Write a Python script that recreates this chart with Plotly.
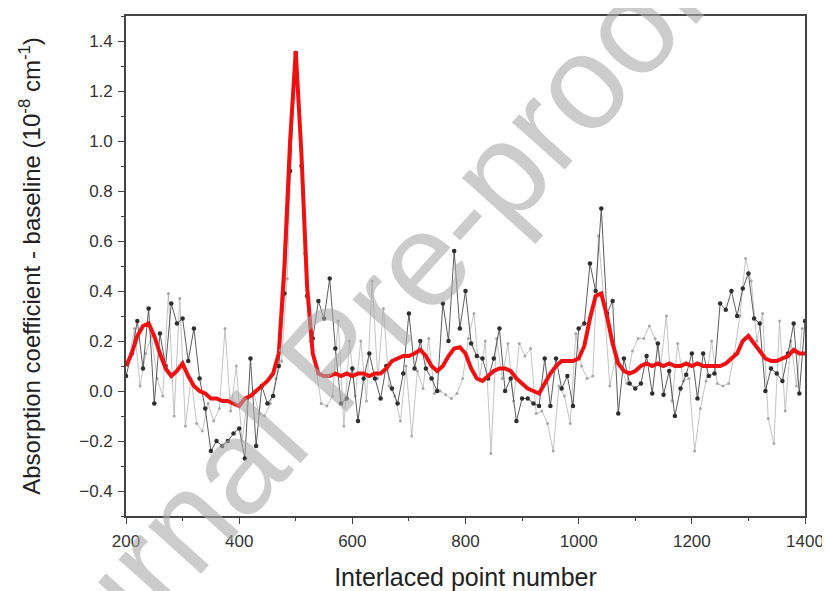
import plotly.graph_objects as go

# ---- data ----
black_x = list(range(200, 1401, 10))
black_y = [0.06, 0.15, 0.28, 0.09, 0.33, -0.05, 0.23, 0.10, 0.35, 0.27,
           0.29, 0.12, 0.25, 0.05, -0.07, -0.24, -0.20, -0.22, -0.20, -0.17,
           -0.15, -0.27, 0.13, -0.22, 0.02, -0.05, -0.02, 0.10, 0.39, 0.88,
           1.35, 0.90, 0.38, 0.21, 0.36, 0.29, 0.45, 0.17, -0.05, -0.03,
           0.09, -0.12, 0.05, 0.15, 0.05, -0.03, 0.10, 0.01, -0.05, 0.07,
           0.31, 0.09, 0.20, 0.09, 0.05, 0.00, 0.35, 0.20, 0.56, 0.25,
           0.40, 0.19, 0.14, 0.13, 0.05, 0.13, 0.25, 0.00, 0.05, -0.12,
           -0.03, -0.03, -0.05, -0.06, 0.13, -0.06, 0.13, 0.01, 0.06, -0.06,
           0.25, 0.27, 0.51, 0.40, 0.73, 0.31, 0.36, -0.09, 0.13, 0.03,
           0.01, 0.03, 0.14, -0.01, 0.19, -0.015, 0.08, -0.10, 0.01, 0.065,
           0.15, -0.03, 0.15, 0.06, 0.07, 0.35, 0.325, 0.40, 0.30, 0.41,
           0.47, 0.29, 0.27, 0.00, 0.09, 0.07, 0.04, 0.15, 0.27, -0.01,
           0.28]

gray_x = list(range(205, 1400, 10))
gray_y = [0.12, 0.25, 0.02, 0.15, 0.22, 0.05, -0.02, 0.39, -0.10, 0.37,
          -0.14, 0.05, -0.13, -0.16, -0.05, -0.12, -0.07, 0.25, -0.08, 0.10,
          -0.20, -0.03, 0.00, -0.09, -0.10, -0.05, 0.05, 0.12, 0.45, 1.15,
          1.20, 0.55, 0.20, 0.10, -0.05, -0.06, -0.02, 0.28, -0.14, 0.20,
          -0.02, 0.20, -0.04, 0.44, 0.05, 0.33, 0.02, -0.02, -0.12, 0.10,
          -0.18, 0.08, 0.01, 0.21, -0.01, 0.00, -0.015, -0.03, -0.01, 0.05,
          0.21, 0.31, 0.05, 0.20, -0.25, 0.21, 0.05, 0.19, -0.04, 0.19,
          0.14, 0.17, -0.09, -0.08, -0.13, -0.24, 0.02, -0.02, -0.13, 0.23,
          0.10, 0.05, 0.06, 0.62, 0.35, 0.02, 0.13, 0.10, 0.03, 0.16,
          0.21, 0.21, 0.26, 0.21, 0.10, 0.30, -0.04, 0.19, 0.04, 0.05,
          -0.24, -0.07, 0.04, 0.20, 0.03, 0.02, 0.03, 0.15, 0.30, 0.53,
          0.44, 0.20, 0.31, -0.11, -0.21, 0.28, -0.08, 0.20, 0.02, 0.25]

red_x = list(range(200, 1401, 10))
red_y = [0.10, 0.15, 0.22, 0.26, 0.27, 0.22, 0.15, 0.09, 0.06, 0.08,
         0.11, 0.06, 0.02, 0.00, -0.01, -0.03, -0.03, -0.04, -0.04, -0.05,
         -0.06, -0.03, -0.02, 0.00, 0.02, 0.04, 0.07, 0.15, 0.50, 1.00,
         1.36, 0.95, 0.42, 0.15, 0.07, 0.06, 0.06, 0.07, 0.06, 0.07,
         0.06, 0.07, 0.07, 0.06, 0.07, 0.07, 0.09, 0.12, 0.13, 0.14,
         0.14, 0.15, 0.165, 0.14, 0.10, 0.08, 0.10, 0.14, 0.17, 0.175,
         0.15, 0.09, 0.05, 0.04, 0.06, 0.08, 0.09, 0.09, 0.08, 0.05,
         0.03, 0.01, 0.00, -0.01, 0.03, 0.07, 0.10, 0.12, 0.12, 0.12,
         0.13, 0.18, 0.29, 0.38, 0.39, 0.30, 0.19, 0.11, 0.08, 0.07,
         0.08, 0.10, 0.11, 0.10, 0.11, 0.10, 0.11, 0.10, 0.10, 0.11,
         0.10, 0.11, 0.10, 0.10, 0.10, 0.10, 0.11, 0.13, 0.15, 0.20,
         0.22, 0.19, 0.16, 0.13, 0.12, 0.12, 0.13, 0.14, 0.165, 0.15,
         0.15]

x_ticks = [200, 400, 600, 800, 1000, 1200, 1400]
y_ticks = [-0.4, -0.2, 0.0, 0.2, 0.4, 0.6, 0.8, 1.0, 1.2, 1.4]

FONT = "Liberation Sans, Arial, sans-serif"

fig = go.Figure()
fig.add_trace(go.Scatter(x=gray_x, y=gray_y, mode="lines+markers",
                         line=dict(color="#b4b4b4", width=0.8),
                         marker=dict(size=3, color="#a8a8a8"),
                         showlegend=False))
fig.add_trace(go.Scatter(x=black_x, y=black_y, mode="lines+markers",
                         line=dict(color="#4a4a4a", width=0.9),
                         marker=dict(size=4.5, color="#2e2e2e"),
                         showlegend=False))
fig.add_trace(go.Scatter(x=red_x, y=red_y, mode="lines",
                         line=dict(color="#ee1111", width=4),
                         showlegend=False))

axis_common = dict(showline=True, linecolor="#444444", linewidth=1.6, mirror=True,
                   ticks="outside", tickcolor="#444444", tickwidth=1.2, ticklen=6,
                   showgrid=False, zeroline=False, automargin=False,
                   tickfont=dict(family=FONT, size=17, color="#333333"))

# the page body adds an 8 px offset, so the figure is 8 px smaller and margins compensate
OFF = 8
W, H = 830 - OFF, 591 - OFF
L, R, T, B = 126 - OFF, 25, 16 - OFF, 75
fig.update_layout(
    width=W, height=H,
    margin=dict(l=L, r=R, t=T, b=B, autoexpand=False),
    paper_bgcolor="white", plot_bgcolor="white",
    xaxis=dict(range=[200, 1400], tickvals=x_ticks, ticklabelstandoff=3,
               minor=dict(dtick=100, tick0=200, ticks="outside", ticklen=3, tickcolor="#444444"),
               title=dict(text="Interlaced point number", standoff=19,
                          font=dict(family=FONT, size=25, color="#222222")),
               **axis_common),
    yaxis=dict(range=[-0.5, 1.5], tickvals=y_ticks, tickformat=".1f", ticklabelstandoff=2,
               minor=dict(dtick=0.1, tick0=0, ticks="outside", ticklen=3, tickcolor="#444444"),
               title=dict(text="Absorption coefficient - baseline (10<sup>-8</sup> cm<sup>-1</sup>)",
                          standoff=32,
                          font=dict(family=FONT, size=24, color="#222222")),
               **axis_common),
)

# watermark centred at a page-pixel position
pw = W - L - R
ph = H - T - B
cx, cy = 332 - OFF, 358 - OFF
fig.add_annotation(text="Journal Pre-proof", xref="paper", yref="paper",
                   x=(cx - L) / pw, y=1 - (cy - T) / ph, xanchor="center", yanchor="middle",
                   showarrow=False, textangle=-48,
                   font=dict(family=FONT, size=134, color="rgba(170,170,170,0.6)"))

fig.write_html("out.html")
